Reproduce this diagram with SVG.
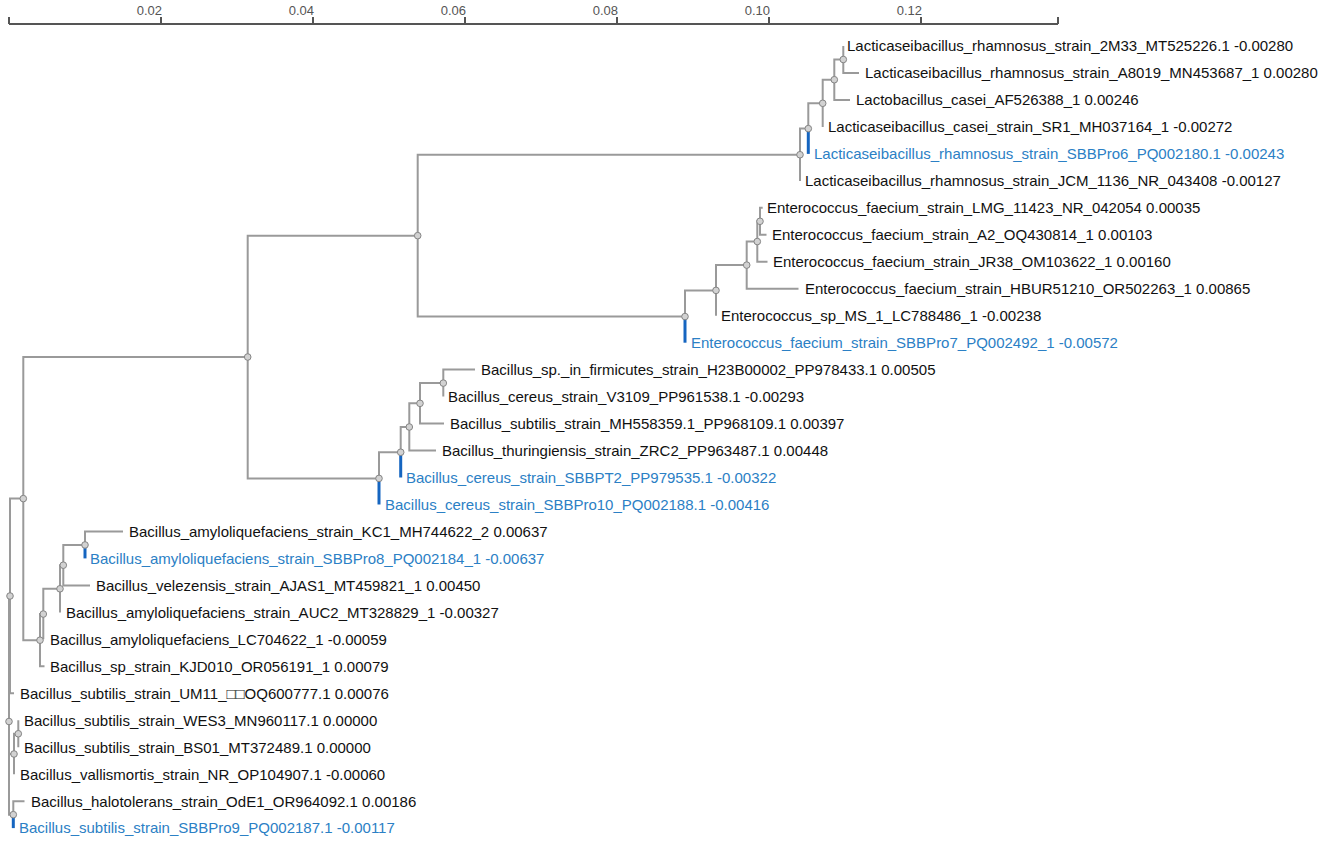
<svg xmlns="http://www.w3.org/2000/svg" width="1325" height="842" viewBox="0 0 1325 842">
<style>
.e{fill:none;stroke:#9a9a9a;stroke-width:2}
.b{fill:none;stroke:#1565c0;stroke-width:3}
.n{fill:#d2d2d2;stroke:#858585;stroke-width:1}
.t{font-family:"Liberation Sans",Arial,sans-serif;font-size:15px;fill:#111}
.tb{font-family:"Liberation Sans",Arial,sans-serif;font-size:15px;fill:#2b80c5}
.ax{fill:none;stroke:#555;stroke-width:2}
.al{font-family:"Liberation Sans",Arial,sans-serif;font-size:13px;fill:#555;text-anchor:end}
</style>
<rect width="1325" height="842" fill="#fff"/>
<g id="axis">
<path class="ax" d="M9 24H1058M9 17V24M161 17V24M313 17V24M465 17V24M617 17V24M769 17V24M921 17V24M1058 17V24"/>
<text class="al" x="162" y="15">0.02</text>
<text class="al" x="314" y="15">0.04</text>
<text class="al" x="466" y="15">0.06</text>
<text class="al" x="618" y="15">0.08</text>
<text class="al" x="770" y="15">0.10</text>
<text class="al" x="922" y="15">0.12</text>
</g>
<g id="connectors">
<path class="e" d="M9 721.5V596H10M9 721.5V754H14M9 721.5V814.65H13.3"/>
<path class="e" d="M10 596V498.6H23.3M10 596V693.3H14"/>
<path class="e" d="M23.3 498.6V357H247.7M23.3 498.6V640.2H40"/>
<path class="e" d="M247.7 357V235.65H417.7M247.7 357V478.4H379"/>
<path class="e" d="M417.7 235.65V154.75H800M417.7 235.65V316.55H685"/>
<path class="e" d="M800 154.75V128.6H808.3M800 154.75V180.9"/>
<path class="e" d="M808.3 128.6V103.3H822.7"/>
<path class="b" d="M808.3 128.6V153.9"/>
<path class="e" d="M822.7 103.3V79.7H834.3M822.7 103.3V126.9"/>
<path class="e" d="M834.3 79.7V59.5H843.3M834.3 79.7V99.9H850"/>
<path class="e" d="M843.3 59.5V46M843.3 59.5V73H859"/>
<path class="e" d="M685 316.55V290.4H716"/>
<path class="b" d="M685 316.55V342.7"/>
<path class="e" d="M716 290.4V265.1H746.7M716 290.4V315.7"/>
<path class="e" d="M746.7 265.1V241.55H757.3M746.7 265.1V288.7H798.5"/>
<path class="e" d="M757.3 241.55V221.3H760M757.3 241.55V261.8H767.5"/>
<path class="e" d="M760 221.3V207.8H762.7M760 221.3V234.8H766.5"/>
<path class="e" d="M379 478.4V452.24H400.7"/>
<path class="b" d="M379 478.4V504.5"/>
<path class="e" d="M400.7 452.24V427H409.3"/>
<path class="b" d="M400.7 452.24V477.5"/>
<path class="e" d="M409.3 427V403.35H420M409.3 427V450.6H436"/>
<path class="e" d="M420 403.35V383.1H443.3M420 403.35V423.6H444"/>
<path class="e" d="M443.3 383.1V369.6H475M443.3 383.1V396.6"/>
<path class="e" d="M40 640.2V614.05H43.3M40 640.2V666.3H44.5"/>
<path class="e" d="M43.3 614.05V588.8H60M43.3 614.05V639.3"/>
<path class="e" d="M60 588.8V565.2H63.3M60 588.8V612.4"/>
<path class="e" d="M63.3 565.2V544.95H85M63.3 565.2V585.4H90"/>
<path class="e" d="M85 544.95V531.5H123"/>
<path class="b" d="M85 544.95V558.4"/>
<path class="e" d="M14 754V733.75H18.3M14 754V774.2"/>
<path class="e" d="M18.3 733.75V720.3M18.3 733.75V747.2"/>
<path class="e" d="M13.3 814.65V801.2H24.5"/>
<path class="b" d="M13.3 814.65V828.1"/>
</g>
<g id="internal-nodes">
<circle id="nX" class="n" cx="9" cy="721.5" r="3.3"/>
<circle id="nR1" class="n" cx="10" cy="596" r="3.3"/>
<circle id="nQ" class="n" cx="23.3" cy="498.6" r="3.3"/>
<circle id="nP" class="n" cx="247.7" cy="357" r="3.3"/>
<circle id="nT" class="n" cx="417.7" cy="235.65" r="3.3"/>
<circle id="nNe" class="n" cx="800" cy="154.75" r="3.3"/>
<circle id="nNd" class="n" cx="808.3" cy="128.6" r="3.3"/>
<circle id="nNc" class="n" cx="822.7" cy="103.3" r="3.3"/>
<circle id="nNb" class="n" cx="834.3" cy="79.7" r="3.3"/>
<circle id="nNa" class="n" cx="843.3" cy="59.5" r="3.3"/>
<circle id="nE5" class="n" cx="685" cy="316.55" r="3.3"/>
<circle id="nE4" class="n" cx="716" cy="290.4" r="3.3"/>
<circle id="nE3" class="n" cx="746.7" cy="265.1" r="3.3"/>
<circle id="nE2" class="n" cx="757.3" cy="241.55" r="3.3"/>
<circle id="nE1" class="n" cx="760" cy="221.3" r="3.3"/>
<circle id="nC5" class="n" cx="379" cy="478.4" r="3.3"/>
<circle id="nC4" class="n" cx="400.7" cy="452.24" r="3.3"/>
<circle id="nC3" class="n" cx="409.3" cy="427" r="3.3"/>
<circle id="nC2" class="n" cx="420" cy="403.35" r="3.3"/>
<circle id="nC1" class="n" cx="443.3" cy="383.1" r="3.3"/>
<circle id="nA5" class="n" cx="40" cy="640.2" r="3.3"/>
<circle id="nA4" class="n" cx="43.3" cy="614.05" r="3.3"/>
<circle id="nA3" class="n" cx="60" cy="588.8" r="3.3"/>
<circle id="nA2" class="n" cx="63.3" cy="565.2" r="3.3"/>
<circle id="nA1" class="n" cx="85" cy="544.95" r="3.3"/>
<circle id="nV" class="n" cx="14" cy="754" r="3.3"/>
<circle id="nW" class="n" cx="18.3" cy="733.75" r="3.3"/>
<circle id="nH" class="n" cx="13.3" cy="814.65" r="3.3"/>
</g>
<g id="leaf01"><text class="t" x="847" y="51.3">Lacticaseibacillus_rhamnosus_strain_2M33_MT525226.1 -0.00280</text></g>
<g id="leaf02"><text class="t" x="865" y="78.3">Lacticaseibacillus_rhamnosus_strain_A8019_MN453687_1 0.00280</text></g>
<g id="leaf03"><text class="t" x="856" y="105.2">Lactobacillus_casei_AF526388_1 0.00246</text></g>
<g id="leaf04"><text class="t" x="828" y="132.2">Lacticaseibacillus_casei_strain_SR1_MH037164_1 -0.00272</text></g>
<g id="leaf05"><text class="tb" x="814" y="159.2">Lacticaseibacillus_rhamnosus_strain_SBBPro6_PQ002180.1 -0.00243</text></g>
<g id="leaf06"><text class="t" x="805" y="186.2">Lacticaseibacillus_rhamnosus_strain_JCM_1136_NR_043408 -0.00127</text></g>
<g id="leaf07"><text class="t" x="767" y="213.1">Enterococcus_faecium_strain_LMG_11423_NR_042054 0.00035</text></g>
<g id="leaf08"><text class="t" x="772" y="240.1">Enterococcus_faecium_strain_A2_OQ430814_1 0.00103</text></g>
<g id="leaf09"><text class="t" x="773" y="267.1">Enterococcus_faecium_strain_JR38_OM103622_1 0.00160</text></g>
<g id="leaf10"><text class="t" x="805" y="294">Enterococcus_faecium_strain_HBUR51210_OR502263_1 0.00865</text></g>
<g id="leaf11"><text class="t" x="721" y="321">Enterococcus_sp_MS_1_LC788486_1 -0.00238</text></g>
<g id="leaf12"><text class="tb" x="691" y="348">Enterococcus_faecium_strain_SBBPro7_PQ002492_1 -0.00572</text></g>
<g id="leaf13"><text class="t" x="481" y="374.9">Bacillus_sp._in_firmicutes_strain_H23B00002_PP978433.1 0.00505</text></g>
<g id="leaf14"><text class="t" x="448" y="401.9">Bacillus_cereus_strain_V3109_PP961538.1 -0.00293</text></g>
<g id="leaf15"><text class="t" x="450" y="428.9">Bacillus_subtilis_strain_MH558359.1_PP968109.1 0.00397</text></g>
<g id="leaf16"><text class="t" x="442" y="455.9">Bacillus_thuringiensis_strain_ZRC2_PP963487.1 0.00448</text></g>
<g id="leaf17"><text class="tb" x="406" y="482.8">Bacillus_cereus_strain_SBBPT2_PP979535.1 -0.00322</text></g>
<g id="leaf18"><text class="tb" x="385" y="509.8">Bacillus_cereus_strain_SBBPro10_PQ002188.1 -0.00416</text></g>
<g id="leaf19"><text class="t" x="129" y="536.8">Bacillus_amyloliquefaciens_strain_KC1_MH744622_2 0.00637</text></g>
<g id="leaf20"><text class="tb" x="90" y="563.7">Bacillus_amyloliquefaciens_strain_SBBPro8_PQ002184_1 -0.00637</text></g>
<g id="leaf21"><text class="t" x="96" y="590.7">Bacillus_velezensis_strain_AJAS1_MT459821_1 0.00450</text></g>
<g id="leaf22"><text class="t" x="66" y="617.7">Bacillus_amyloliquefaciens_strain_AUC2_MT328829_1 -0.00327</text></g>
<g id="leaf23"><text class="t" x="50" y="644.6">Bacillus_amyloliquefaciens_LC704622_1 -0.00059</text></g>
<g id="leaf24"><text class="t" x="50" y="671.6">Bacillus_sp_strain_KJD010_OR056191_1 0.00079</text></g>
<g id="leaf25"><text class="t" x="20" y="698.6">Bacillus_subtilis_strain_UM11_□□OQ600777.1 0.00076</text></g>
<g id="leaf26"><text class="t" x="24" y="725.6">Bacillus_subtilis_strain_WES3_MN960117.1 0.00000</text></g>
<g id="leaf27"><text class="t" x="24" y="752.5">Bacillus_subtilis_strain_BS01_MT372489.1 0.00000</text></g>
<g id="leaf28"><text class="t" x="20" y="779.5">Bacillus_vallismortis_strain_NR_OP104907.1 -0.00060</text></g>
<g id="leaf29"><text class="t" x="31" y="806.5">Bacillus_halotolerans_strain_OdE1_OR964092.1 0.00186</text></g>
<g id="leaf30"><text class="tb" x="19" y="833.4">Bacillus_subtilis_strain_SBBPro9_PQ002187.1 -0.00117</text></g>
</svg>
